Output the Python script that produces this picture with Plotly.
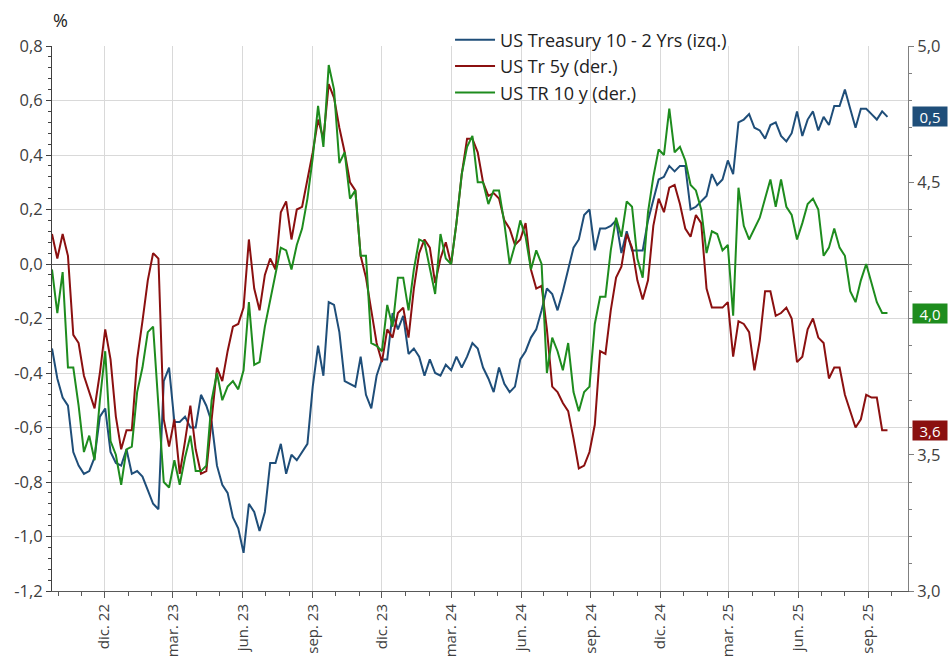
import pandas as pd
import plotly.graph_objects as go

# ---------------- data (weekly observations) ----------------
start_date = "2022-09-23"
n_weeks = 158
dates = pd.date_range(start_date, periods=n_weeks, freq="7D")

spread_10_2 = [
    -0.31, -0.42, -0.49, -0.52, -0.69, -0.74, -0.77, -0.76, -0.71, -0.56,
    -0.53, -0.69, -0.73, -0.74, -0.68, -0.77, -0.76, -0.78, -0.83, -0.88,
    -0.90, -0.43, -0.38, -0.58, -0.58, -0.56, -0.60, -0.60, -0.48, -0.52,
    -0.58, -0.74, -0.81, -0.84, -0.93, -0.97, -1.06, -0.88, -0.91, -0.98,
    -0.91, -0.73, -0.73, -0.66, -0.77, -0.70, -0.72, -0.69, -0.66, -0.45,
    -0.30, -0.41, -0.14, -0.15, -0.25, -0.43, -0.44, -0.45, -0.34, -0.48,
    -0.53, -0.41, -0.35, -0.35, -0.18, -0.24, -0.19, -0.33, -0.31, -0.34,
    -0.41, -0.35, -0.40, -0.41, -0.37, -0.39, -0.34, -0.38, -0.34, -0.29,
    -0.31, -0.38, -0.42, -0.47, -0.38, -0.44, -0.47, -0.45, -0.35, -0.32,
    -0.27, -0.24, -0.17, -0.09, -0.11, -0.17, -0.10, -0.02, 0.06, 0.09,
    0.18, 0.20, 0.05, 0.13, 0.13, 0.14, 0.16, 0.04, 0.12, 0.05,
    0.05, 0.05, 0.16, 0.24, 0.31, 0.32, 0.36, 0.34, 0.36, 0.36,
    0.20, 0.21, 0.23, 0.25, 0.33, 0.29, 0.31, 0.38, 0.33, 0.52,
    0.53, 0.55, 0.50, 0.49, 0.46, 0.51, 0.52, 0.47, 0.45, 0.48,
    0.56, 0.47, 0.53, 0.56, 0.49, 0.54, 0.51, 0.58, 0.58, 0.64,
    0.57, 0.50, 0.57, 0.57, 0.55, 0.53, 0.56, 0.54,
]

tr_5y = [
    4.31, 4.22, 4.31, 4.23, 3.94, 3.91, 3.79, 3.73, 3.67, 3.80,
    3.96, 3.85, 3.64, 3.52, 3.59, 3.59, 3.85, 3.99, 4.14, 4.24,
    4.22, 3.63, 3.53, 3.63, 3.43, 3.55, 3.68, 3.52, 3.43, 3.44,
    3.62, 3.82, 3.77, 3.88, 3.97, 3.98, 4.04, 4.29, 4.11, 4.03,
    4.16, 4.22, 4.18, 4.39, 4.43, 4.29, 4.40, 4.41, 4.51, 4.61,
    4.73, 4.66, 4.86, 4.81, 4.70, 4.61, 4.50, 4.47, 4.23, 4.15,
    4.03, 3.91, 3.84, 3.96, 3.93, 4.02, 4.04, 3.93, 4.11, 4.24,
    4.29, 4.26, 4.13, 4.22, 4.28, 4.20, 4.35, 4.53, 4.66, 4.66,
    4.61, 4.50, 4.45, 4.46, 4.44, 4.36, 4.33, 4.27, 4.29, 4.35,
    4.18, 4.11, 4.12, 3.96, 3.75, 3.73, 3.69, 3.66, 3.56, 3.45,
    3.46, 3.51, 3.61, 3.88, 3.87, 4.03, 4.15, 4.19, 4.31, 4.26,
    4.14, 4.07, 4.14, 4.34, 4.44, 4.39, 4.48, 4.49, 4.42, 4.33,
    4.30, 4.38, 4.35, 4.11, 4.04, 4.04, 4.04, 4.06, 3.86, 3.99,
    3.98, 3.95, 3.81, 3.92, 4.10, 4.10, 4.01, 4.02, 4.04, 4.00,
    3.84, 3.86, 3.96, 4.00, 3.93, 3.91, 3.78, 3.82, 3.82, 3.72,
    3.66, 3.60, 3.63, 3.72, 3.71, 3.71, 3.59, 3.59,
]

tr_10y = [
    4.18, 4.02, 4.17, 3.82, 3.82, 3.68, 3.51, 3.57, 3.48, 3.70,
    3.88, 3.55, 3.50, 3.39, 3.52, 3.53, 3.73, 3.82, 3.95, 3.97,
    3.68, 3.40, 3.38, 3.48, 3.39, 3.49, 3.57, 3.44, 3.44, 3.46,
    3.70, 3.80, 3.70, 3.75, 3.77, 3.74, 3.81, 4.06, 3.83, 3.84,
    3.97, 4.07, 4.17, 4.26, 4.25, 4.18, 4.27, 4.33, 4.44, 4.59,
    4.78, 4.63, 4.93, 4.84, 4.57, 4.61, 4.44, 4.47, 4.23, 4.23,
    3.91, 3.90, 3.88, 4.05, 3.97, 4.15, 4.15, 4.03, 4.18, 4.29,
    4.28, 4.19, 4.09, 4.31, 4.22, 4.20, 4.35, 4.53, 4.63, 4.67,
    4.50, 4.50, 4.42, 4.47, 4.47, 4.35, 4.20, 4.27, 4.36, 4.30,
    4.18, 4.25, 4.20, 3.80, 3.93, 3.88, 3.81, 3.91, 3.73, 3.66,
    3.73, 3.75, 3.98, 4.08, 4.08, 4.25, 4.37, 4.30, 4.43, 4.41,
    4.22, 4.15, 4.39, 4.52, 4.62, 4.60, 4.77, 4.61, 4.63, 4.58,
    4.49, 4.47, 4.40, 4.24, 4.32, 4.31, 4.25, 4.27, 4.01, 4.48,
    4.34, 4.29, 4.33, 4.37, 4.44, 4.51, 4.41, 4.51, 4.41, 4.38,
    4.29, 4.35, 4.42, 4.44, 4.40, 4.23, 4.26, 4.33, 4.26, 4.23,
    4.10, 4.06, 4.14, 4.20, 4.13, 4.06, 4.02, 4.02,
]

series_names = ["US Treasury 10 - 2 Yrs (izq.)", "US Tr 5y (der.)", "US TR 10 y (der.)"]

x_tick_dates = ["2022-12-01", "2023-03-01", "2023-06-01", "2023-09-01",
                "2023-12-01", "2024-03-01", "2024-06-01", "2024-09-01",
                "2024-12-01", "2025-03-01", "2025-06-01", "2025-09-01"]
x_tick_labels = ["dic. 22", "mar. 23", "jun. 23", "sep. 23",
                 "dic. 23", "mar. 24", "jun. 24", "sep. 24",
                 "dic. 24", "mar. 25", "jun. 25", "sep. 25"]

left_tick_vals = [-1.2, -1.0, -0.8, -0.6, -0.4, -0.2, 0.0, 0.2, 0.4, 0.6, 0.8]
left_tick_labels = ["-1,2", "-1,0", "-0,8", "-0,6", "-0,4", "-0,2", "0,0", "0,2", "0,4", "0,6", "0,8"]
right_tick_vals = [3.0, 3.5, 4.0, 4.5, 5.0]
# the 4,0 label sits under the green end-value box in the original
right_tick_labels = ["3,0", "3,5", "", "4,5", "5,0"]

# ---------------- style ----------------
BLUE = "#1f4e79"
RED = "#8b1010"
GREEN = "#1e8c1e"
FONT = "Open Sans"
TXT = "#404040"

fig = go.Figure()
fig.add_trace(go.Scatter(x=dates, y=spread_10_2, name=series_names[0], mode="lines",
                         line=dict(color=BLUE, width=2), yaxis="y"))
fig.add_trace(go.Scatter(x=dates, y=tr_5y, name=series_names[1], mode="lines",
                         line=dict(color=RED, width=2), yaxis="y2"))
fig.add_trace(go.Scatter(x=dates, y=tr_10y, name=series_names[2], mode="lines",
                         line=dict(color=GREEN, width=2), yaxis="y2"))

month_starts = pd.date_range("2022-10-01", "2025-10-01", freq="MS")

fig.update_layout(
    width=951, height=660,
    margin=dict(l=52, r=43, t=46, b=69, autoexpand=False),
    paper_bgcolor="white", plot_bgcolor="white",
    font=dict(family=FONT, size=15, color=TXT),
    showlegend=True,
    legend=dict(x=0.465, y=1.045, xanchor="left", yanchor="top",
                bgcolor="rgba(0,0,0,0)", font=dict(size=18, color="#222222"),
                tracegroupgap=0, itemwidth=40),
    xaxis=dict(
        type="date", range=["2022-09-23", "2025-10-23"], automargin=False,
        tickmode="array", tickvals=x_tick_dates, ticktext=x_tick_labels,
        tickangle=-90, ticks="outside", ticklen=6, tickcolor="#595959",
        showgrid=True, gridcolor="#d9d9d9", gridwidth=1,
        showline=True, linecolor="#595959", linewidth=1,
        tickfont=dict(size=15, color=TXT),
        minor=dict(tickmode="array", tickvals=list(month_starts), ticks="outside",
                   ticklen=4, tickcolor="#595959", showgrid=False),
        zeroline=False,
    ),
    yaxis=dict(
        range=[-1.2, 0.8], automargin=False,
        tickmode="array", tickvals=left_tick_vals, ticktext=left_tick_labels,
        ticks="outside", ticklen=5, tickcolor="#404040",
        showgrid=True, gridcolor="#d9d9d9", gridwidth=1,
        showline=True, linecolor="#404040", linewidth=1,
        zeroline=True, zerolinecolor="#595959", zerolinewidth=1,
        minor=dict(tickmode="linear", tick0=0, dtick=0.04, ticks="outside", ticklen=3,
                   tickcolor="#404040", showgrid=False),
        tickfont=dict(size=16.5, color=TXT),
    ),
    yaxis2=dict(
        range=[3.0, 5.0], overlaying="y", side="right", anchor="x", automargin=False,
        tickmode="array", tickvals=right_tick_vals, ticktext=right_tick_labels,
        ticks="outside", ticklen=5, tickcolor="#808080",
        showgrid=False, zeroline=False,
        showline=True, linecolor="#808080", linewidth=1,
        minor=dict(tickmode="linear", tick0=3.0, dtick=0.1, ticks="outside", ticklen=3,
                   tickcolor="#808080", showgrid=False),
        tickfont=dict(size=16.5, color=TXT),
    ),
)

# "%" unit label
fig.add_annotation(text="%", xref="paper", yref="paper", x=0.0095, y=1.048,
                   xanchor="center", yanchor="middle", showarrow=False,
                   font=dict(size=18, color="#222222"))

# end-of-series value boxes
def fmt(v):
    return f"{v:.1f}".replace(".", ",")

end_labels = [
    (spread_10_2[-1], "y", BLUE),
    (tr_10y[-1], "y2", GREEN),
    (tr_5y[-1], "y2", RED),
]
for val, yref, col in end_labels:
    fig.add_annotation(text=fmt(val), xref="paper", yref=yref, x=1, y=val,
                       xanchor="left", yanchor="middle", xshift=4, showarrow=False,
                       bgcolor=col, font=dict(size=15, color="white"),
                       width=34, height=19, borderpad=0)

fig.write_html("out.html", config={"displayModeBar": False},
               post_script="document.body.style.margin='0';document.body.style.overflow='hidden';")
